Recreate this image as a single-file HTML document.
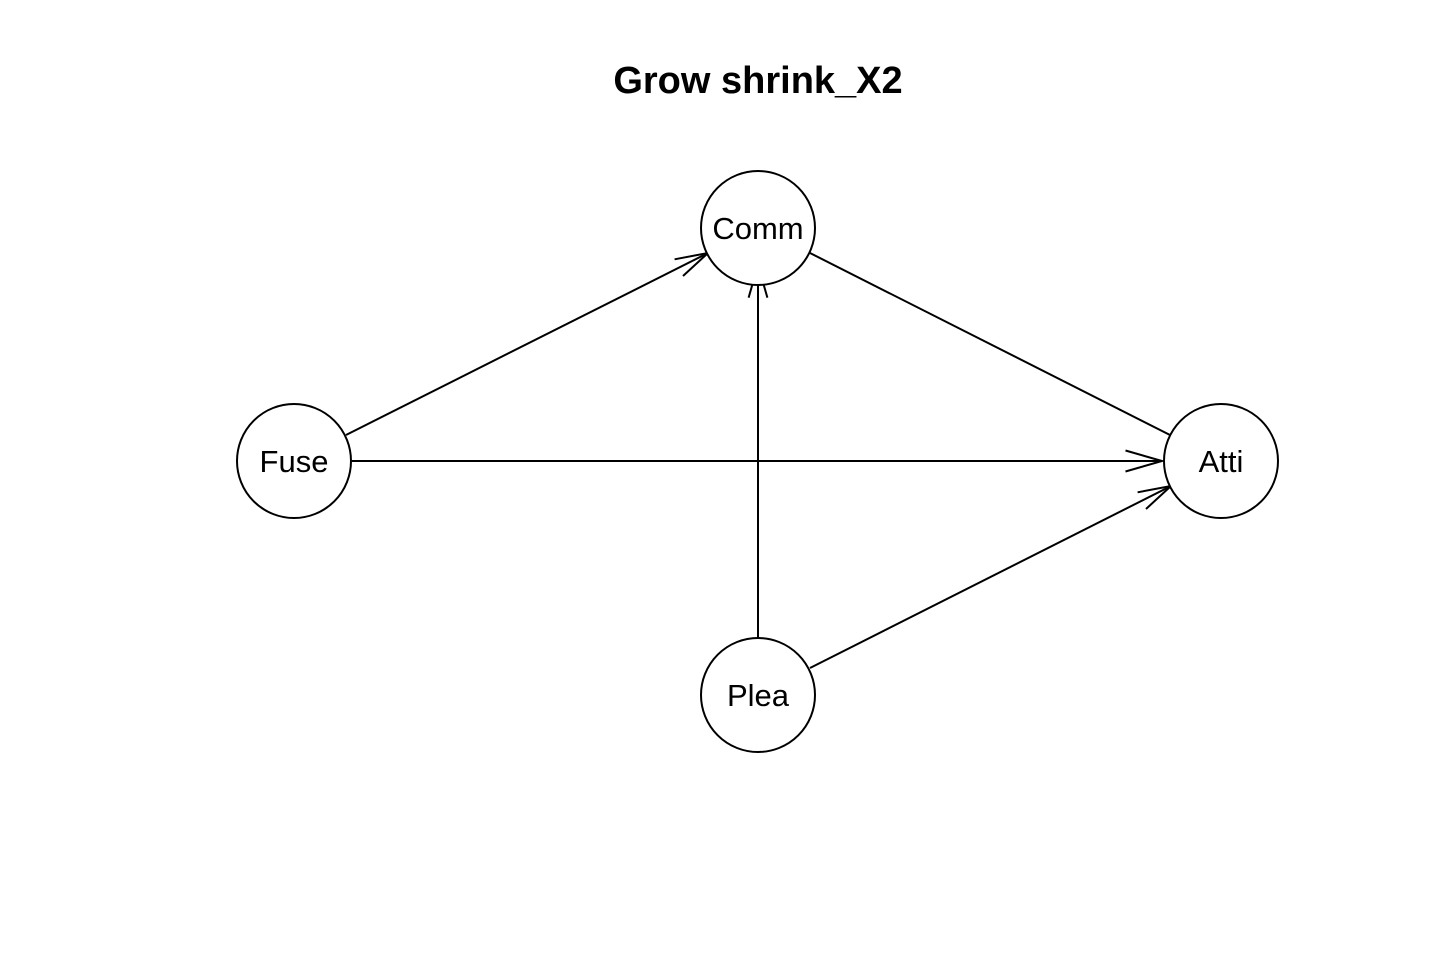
<!DOCTYPE html>
<html><head><meta charset="utf-8"><style>
html,body{margin:0;padding:0;background:#fff;}
svg{display:block}
</style></head><body>
<svg width="1440" height="960" viewBox="0 0 1440 960" xmlns="http://www.w3.org/2000/svg">
<rect width="1440" height="960" fill="#fff"/>
<text x="758" y="93" text-anchor="middle" font-family="Liberation Sans, sans-serif" font-weight="bold" font-size="38">Grow shrink_X2</text>
<g stroke="#000" stroke-width="2" fill="none">
<line x1="346" y1="435" x2="708" y2="253"/>
<polyline points="674.6,259.3 708,253 683,276"/>
<line x1="810" y1="253" x2="1172" y2="436"/>
<line x1="352" y1="461" x2="1162" y2="461"/>
<polyline points="1125.5,450.5 1162,461 1125.5,471.5"/>
<line x1="758" y1="638" x2="758" y2="265"/>
<polyline points="748.6,297.7 758,265 767.4,297.7"/>
<line x1="810" y1="668" x2="1171" y2="486"/>
<polyline points="1137.6,492.3 1171,486 1146,509"/>
</g>
<g stroke="#000" stroke-width="2" fill="#fff">
<circle cx="758" cy="228" r="57"/>
<circle cx="294" cy="461" r="57"/>
<circle cx="1221" cy="461" r="57"/>
<circle cx="758" cy="695" r="57"/>
</g>
<g font-family="Liberation Sans, sans-serif" font-size="31" text-anchor="middle">
<text x="758" y="239">Comm</text>
<text x="294" y="472">Fuse</text>
<text x="1221" y="472">Atti</text>
<text x="758" y="706">Plea</text>
</g>
</svg>
</body></html>
